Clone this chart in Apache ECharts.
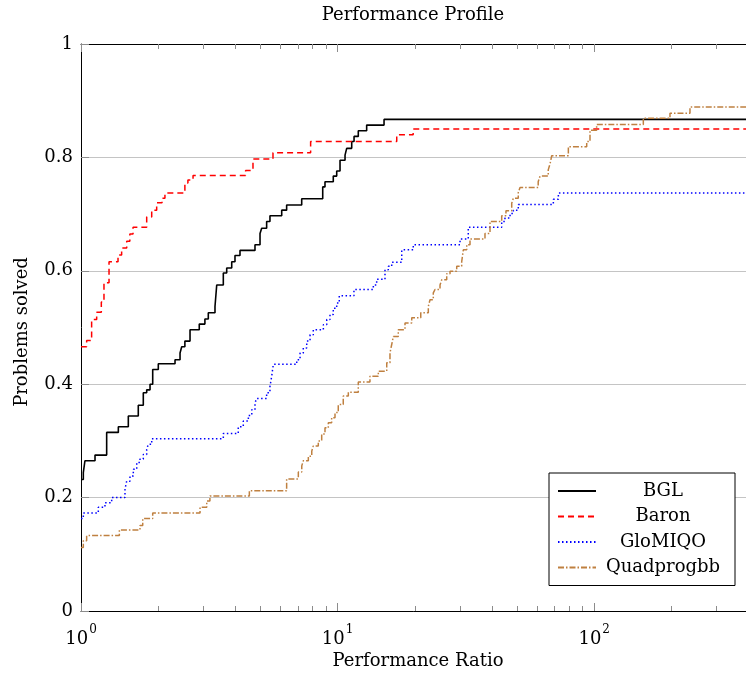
<!DOCTYPE html>
<html><head><meta charset="utf-8">
<script src="https://cdn.jsdelivr.net/npm/echarts@6/dist/echarts.min.js"></script>
<style>html,body{margin:0;padding:0;background:#fff}#c{width:746px;height:674px}</style>
</head><body><div id="c"></div><script>
// ---- data (performance ratio tau, fraction of problems solved rho) ----
const seriesNames = ['BGL', 'Baron', 'GloMIQO', 'Quadprogbb'];
const TAU_END = 1000;

const bglTau = [1, 1.021, 1.036, 1.134, 1.259, 1.398, 1.529, 1.672, 1.749, 1.803, 1.858, 1.903, 2.001, 2.325, 2.432, 2.469, 2.54, 2.66, 2.89, 3.04, 3.134, 3.328, 3.38, 3.586, 3.697, 3.867, 3.982, 4.165, 4.765, 4.985, 5.06, 5.29, 5.45, 6.056, 6.33, 7.246, 8.75, 8.93, 9.62, 9.92, 10.22, 10.69, 10.85, 11.35, 11.59, 12.04, 12.98, 15.17];
const bglRho = [0.232, 0.244, 0.265, 0.275, 0.315, 0.325, 0.344, 0.363, 0.385, 0.39, 0.40, 0.426, 0.436, 0.443, 0.455, 0.466, 0.476, 0.496, 0.506, 0.515, 0.526, 0.537, 0.575, 0.596, 0.605, 0.616, 0.627, 0.636, 0.646, 0.666, 0.675, 0.687, 0.697, 0.707, 0.716, 0.727, 0.748, 0.757, 0.767, 0.776, 0.795, 0.804, 0.816, 0.828, 0.837, 0.847, 0.857, 0.867];

const baronTau = [1, 1.052, 1.10, 1.151, 1.20, 1.229, 1.286, 1.394, 1.44, 1.507, 1.55, 1.595, 1.803, 1.886, 1.972, 2.069, 2.124, 2.54, 2.61, 2.733, 4.38, 4.68, 5.6, 7.85, 17.0, 19.7];
const baronRho = [0.466, 0.477, 0.514, 0.527, 0.545, 0.579, 0.616, 0.628, 0.64, 0.652, 0.665, 0.677, 0.695, 0.707, 0.72, 0.728, 0.737, 0.755, 0.76, 0.768, 0.777, 0.797, 0.808, 0.828, 0.84, 0.85];

const gloTau = [1, 1.021, 1.168, 1.24, 1.317, 1.484, 1.507, 1.552, 1.599, 1.649, 1.698, 1.749, 1.803, 1.829, 1.886, 3.586, 4.10, 4.29, 4.49, 4.63, 4.765, 4.84, 5.29, 5.45, 5.535, 5.616, 6.93, 7.14, 7.35, 7.58, 7.81, 8.04, 8.80, 9.07, 9.34, 9.62, 9.92, 10.15, 11.58, 13.78, 14.2, 15.3, 15.76, 16.25, 17.78, 19.72, 30.0, 32.3, 43.6, 44.9, 47.0, 48.4, 50.6, 69.3, 72.5];
const gloRho = [0.163, 0.173, 0.183, 0.191, 0.200, 0.215, 0.229, 0.238, 0.25, 0.262, 0.268, 0.276, 0.285, 0.294, 0.304, 0.313, 0.325, 0.335, 0.345, 0.355, 0.367, 0.375, 0.385, 0.396, 0.414, 0.435, 0.443, 0.455, 0.464, 0.476, 0.487, 0.496, 0.505, 0.514, 0.523, 0.534, 0.543, 0.556, 0.567, 0.575, 0.585, 0.602, 0.608, 0.615, 0.637, 0.646, 0.656, 0.677, 0.687, 0.693, 0.701, 0.707, 0.717, 0.726, 0.737];

const quadTau = [1, 1.021, 1.052, 1.411, 1.698, 1.74, 1.903, 2.91, 3.09, 3.18, 4.53, 6.33, 7.03, 7.25, 7.35, 7.69, 7.93, 8.04, 8.41, 8.67, 8.93, 9.20, 9.48, 9.77, 10.06, 10.52, 11.01, 12.04, 13.37, 14.41, 15.54, 16.0, 16.25, 16.49, 17.24, 18.31, 19.45, 21.09, 22.57, 22.92, 23.6, 23.97, 25.07, 25.45, 26.62, 27.42, 29.12, 30.45, 30.9, 31.86, 32.81, 37.53, 39.26, 43.6, 45.3, 47.7, 48.4, 50.6, 51.4, 60.5, 61.5, 66.2, 67.3, 68.3, 79.3, 93.5, 96.3, 102.2, 155.4, 197.4, 236.2];
const quadRho = [0.112, 0.124, 0.133, 0.143, 0.151, 0.163, 0.173, 0.183, 0.194, 0.203, 0.212, 0.233, 0.245, 0.256, 0.265, 0.273, 0.282, 0.291, 0.30, 0.312, 0.323, 0.332, 0.341, 0.35, 0.364, 0.379, 0.386, 0.404, 0.414, 0.423, 0.438, 0.455, 0.47, 0.484, 0.496, 0.508, 0.517, 0.526, 0.537, 0.549, 0.561, 0.567, 0.575, 0.584, 0.595, 0.599, 0.608, 0.616, 0.637, 0.646, 0.656, 0.666, 0.687, 0.697, 0.706, 0.719, 0.728, 0.738, 0.747, 0.757, 0.767, 0.778, 0.789, 0.803, 0.819, 0.828, 0.848, 0.858, 0.869, 0.878, 0.889];

const yTicks = [0, 0.2, 0.4, 0.6, 0.8, 1];
const titleText = 'Performance Profile';
const xName = 'Performance Ratio';
const yName = 'Problems solved';

// ---- chart ----
const FONT = 'DejaVu Serif';
const pairs = (t, r) => t.map((v, i) => [v, r[i]]).concat([[TAU_END, r[r.length - 1]]]);
const chart = echarts.init(document.getElementById('c'), null, {renderer: 'canvas'});

const tickColor = '#8c8c8c';
const baseX = {
  type: 'log', logBase: 10, min: 1, max: TAU_END, gridIndex: 0,
  axisLine: {show: true, onZero: false, lineStyle: {color: '#000', width: 1}},
  axisTick: {show: true, inside: true, length: 8, lineStyle: {color: tickColor, width: 1}},
  minorTick: {show: true, splitNumber: 9, length: 5, lineStyle: {color: tickColor, width: 1}},
  splitLine: {show: false}, minorSplitLine: {show: false}
};

chart.setOption({
  animation: false,
  backgroundColor: '#fff',
  grid: {left: 81, top: 44, width: 769.8, height: 567, containLabel: false, outerBoundsMode: 'none'},
  xAxis: [
    Object.assign({}, baseX, {
      position: 'bottom',
      axisLabel: {
        margin: 13,
        formatter: v => '{b|10}{s|' + Math.round(Math.log10(v)) + '}',
        rich: {
          b: {fontFamily: FONT, fontSize: 18, color: '#000', lineHeight: 24, verticalAlign: 'bottom'},
          s: {fontFamily: FONT, fontSize: 12, color: '#000', lineHeight: 24, verticalAlign: 'top', padding: [0, 0, 0, 1]}
        }
      }
    }),
    Object.assign({}, baseX, {position: 'top', axisLabel: {show: false}})
  ],
  yAxis: {
    type: 'value', min: 0, max: 1, interval: 0.2,
    axisLine: {show: true, lineStyle: {color: '#000', width: 1}},
    axisTick: {show: true, inside: true, length: 8, lineStyle: {color: tickColor}},
    splitLine: {show: true, lineStyle: {color: '#c4c4c4', width: 1}},
    axisLabel: {
      margin: 8, fontFamily: FONT, fontSize: 18, color: '#000',
      customValues: yTicks,
      formatter: v => (v === 0 ? '0' : v === 1 ? '1' : v.toFixed(1))
    }
  },
  legend: {
    orient: 'vertical', left: 549, top: 473,
    padding: [9, 10, 9, 8], itemGap: 7.5, itemWidth: 38, itemHeight: 14, itemTextGap: 5,
    backgroundColor: '#fff', borderColor: '#000', borderWidth: 1, borderRadius: 0,
    itemStyle: {opacity: 0},
    data: seriesNames,
    formatter: n => '{n|' + n + '}',
    textStyle: {rich: {n: {width: 124, align: 'center', fontFamily: FONT, fontSize: 18, lineHeight: 20, color: '#000'}}}
  },
  graphic: [
    {type: 'text', x: 413, y: 15, style: {text: titleText, fontFamily: FONT, fontSize: 18, fill: '#000', align: 'center', verticalAlign: 'middle'}},
    {type: 'text', x: 418, y: 661, style: {text: xName, fontFamily: FONT, fontSize: 18, fill: '#000', align: 'center', verticalAlign: 'middle'}},
    {type: 'text', x: 22, y: 332, rotation: Math.PI / 2, style: {text: yName, fontFamily: FONT, fontSize: 18, fill: '#000', align: 'center', verticalAlign: 'middle'}}
  ],
  series: [
    {name: 'BGL', type: 'line', step: 'end', showSymbol: false, symbol: 'none', data: pairs(bglTau, bglRho),
     lineStyle: {color: '#000', width: 1.6, type: 'solid'}, itemStyle: {color: '#000'}},
    {name: 'Baron', type: 'line', step: 'end', showSymbol: false, symbol: 'none', data: pairs(baronTau, baronRho),
     lineStyle: {color: '#ff0000', width: 1.5, type: [6, 4]}, itemStyle: {color: '#ff0000'}},
    {name: 'GloMIQO', type: 'line', step: 'end', showSymbol: false, symbol: 'none', data: pairs(gloTau, gloRho),
     lineStyle: {color: '#0000ff', width: 1.5, type: [1.5, 2.5]}, itemStyle: {color: '#0000ff'}},
    {name: 'Quadprogbb', type: 'line', step: 'end', showSymbol: false, symbol: 'none', data: pairs(quadTau, quadRho),
     lineStyle: {color: '#bf8040', width: 1.5, type: [6, 2, 1.5, 2]}, itemStyle: {color: '#bf8040'}}
  ]
});
</script></body></html>
